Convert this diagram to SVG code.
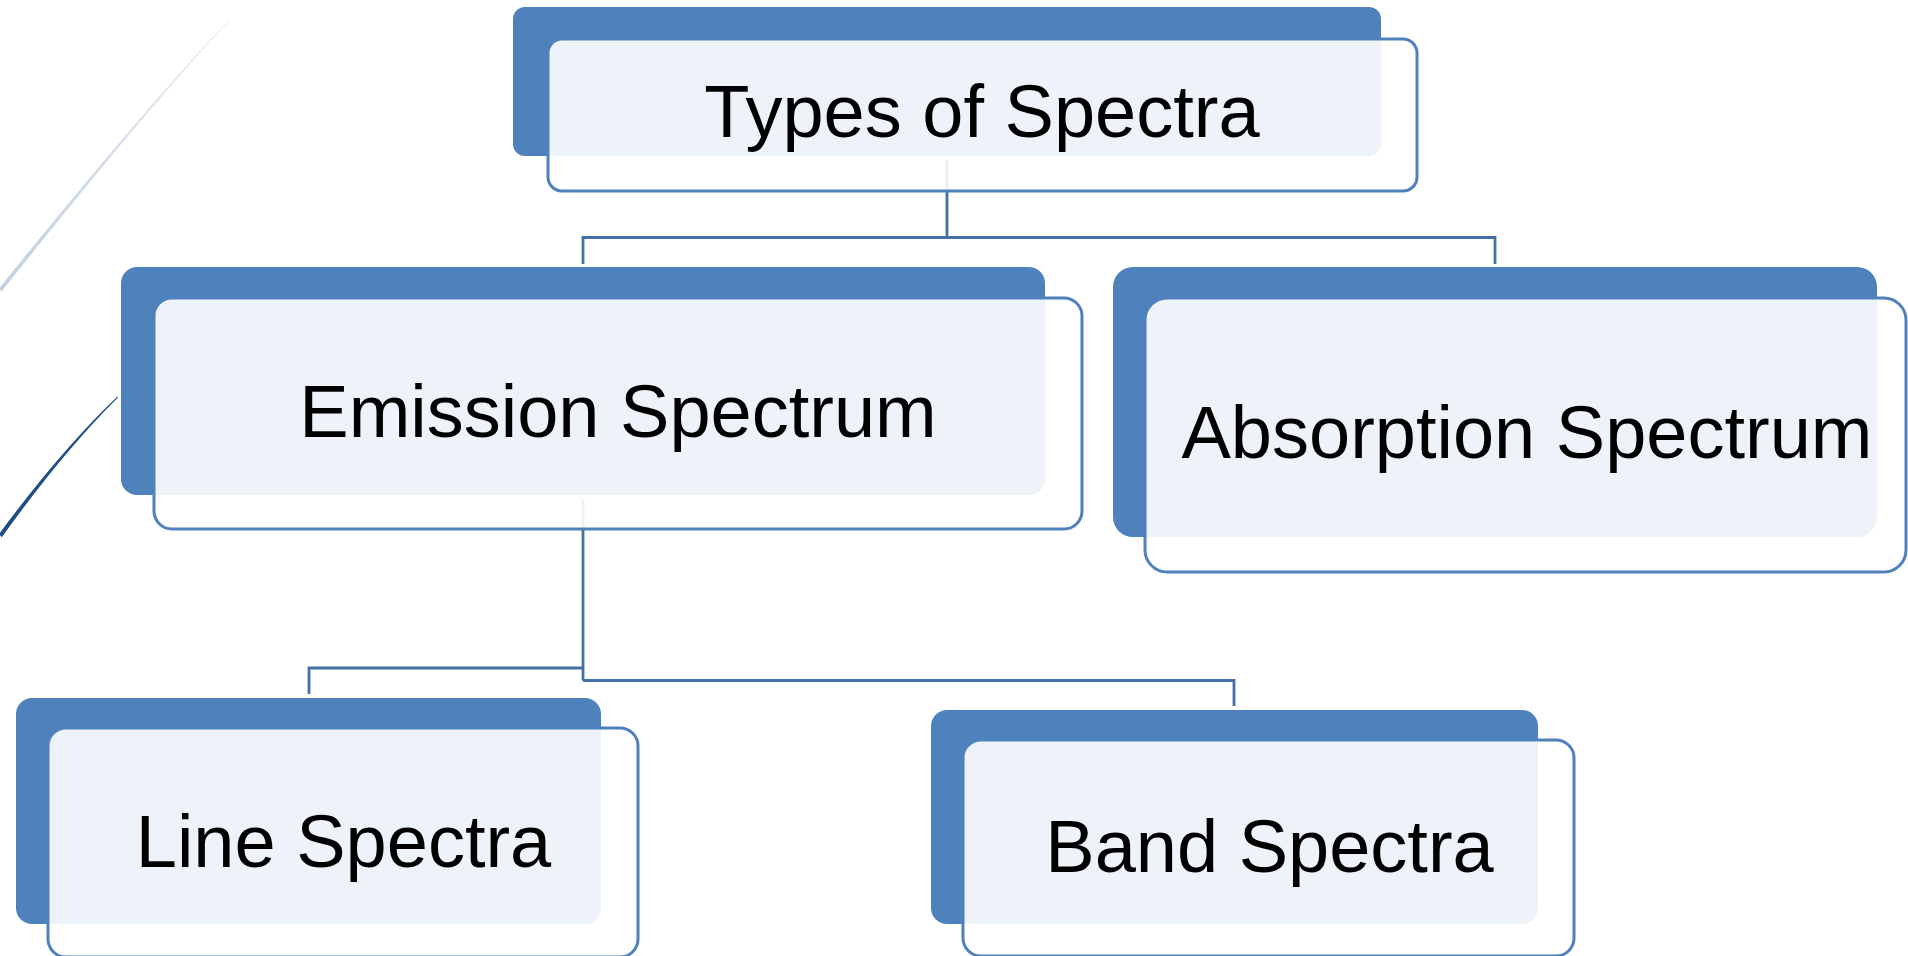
<svg xmlns="http://www.w3.org/2000/svg" width="1908" height="956" viewBox="0 0 1908 956">
  <style>
    .back { fill: #4F81BD; }
    .front { fill: #FFFFFF; fill-opacity: 0.9; stroke: #4F81BD; stroke-width: 3; }
    .label { font-family: "Liberation Sans", Arial, sans-serif; font-size: 74px; fill: #000000; text-anchor: middle; }
    .conn { fill: none; stroke: #4470A8; stroke-width: 2.8; }
  </style>
  <defs>
    <linearGradient id="arcFade" x1="229" y1="20" x2="0" y2="290" gradientUnits="userSpaceOnUse">
      <stop offset="0" stop-color="#C8D4E3" stop-opacity="0.5"/>
      <stop offset="1" stop-color="#C3D0E1" stop-opacity="1"/>
    </linearGradient>
  </defs>

  <rect width="1908" height="956" fill="#FFFFFF"/>

  <!-- decorative arcs at the left edge -->
  <g id="decor">
    <path d="M 229.5 19.5 Q 148 104 -1.5 289 L 1.5 291.5 Q 149 106 229.5 20.5 Z" fill="url(#arcFade)"/>
    <path d="M 117.5 396.5 Q 62 449 -1 534 L 1.8 537.2 Q 63 452 118 397.5 Z" fill="#1F4E86"/>
  </g>

  <!-- connectors (drawn beneath the boxes) -->
  <g id="connectors">
    <path class="conn" d="M 947 160 V 237.5 M 583 264 V 237.5 H 1495 V 264"/>
    <path class="conn" d="M 583 499 V 680.5 M 583 668 H 309 V 694 M 583 680.5 H 1234 V 706"/>
  </g>

  <g id="node-types">
    <rect class="back" x="513" y="7" width="868" height="149" rx="12"/>
    <rect class="front" x="548" y="39" width="869" height="152" rx="14"/>
    <text class="label" x="982" y="137">Types of Spectra</text>
  </g>

  <g id="node-emission">
    <rect class="back" x="121" y="267" width="924" height="228" rx="16"/>
    <rect class="front" x="154" y="298" width="928" height="231" rx="18"/>
    <text class="label" x="618" y="437">Emission Spectrum</text>
  </g>

  <g id="node-absorption">
    <rect class="back" x="1113" y="267" width="764" height="270" rx="20"/>
    <rect class="front" x="1145" y="298" width="761" height="274" rx="22"/>
    <text class="label" x="1527" y="458">Absorption Spectrum</text>
  </g>

  <g id="node-line">
    <rect class="back" x="16" y="698" width="585" height="226" rx="16"/>
    <rect class="front" x="48" y="728" width="590" height="229" rx="18"/>
    <text class="label" x="343.5" y="867">Line Spectra</text>
  </g>

  <g id="node-band">
    <rect class="back" x="931" y="710" width="607" height="214" rx="16"/>
    <rect class="front" x="963" y="740" width="611" height="216" rx="18"/>
    <text class="label" x="1269.5" y="872">Band Spectra</text>
  </g>
</svg>
